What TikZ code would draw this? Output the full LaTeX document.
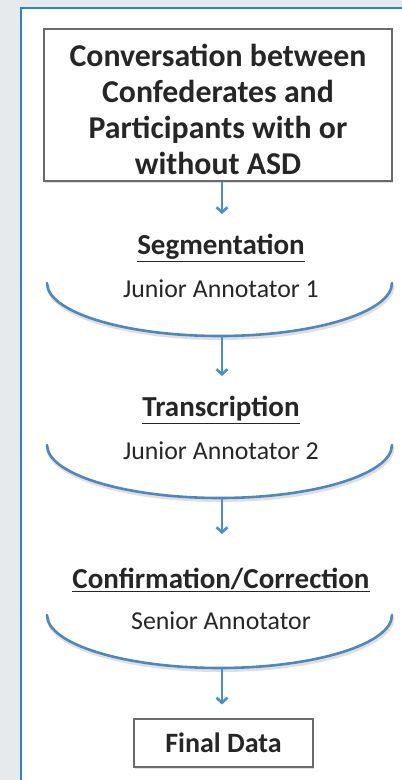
\documentclass[tikz,border=0pt]{standalone}
\usepackage{fontspec}
\setmainfont{Carlito}
\usepackage{tikz}
\usetikzlibrary{arrows.meta,shadows}
\definecolor{ink}{HTML}{262626}
\definecolor{page}{HTML}{E7EAED}
\definecolor{edge}{HTML}{2B82D3}
\definecolor{boxline}{HTML}{6A6A6A}
\definecolor{curve}{HTML}{4F86BE}
\definecolor{arrow}{HTML}{4A8FCB}
\tikzset{
  frame/.style={draw=edge, fill=white, line width=2pt},
  box/.style={draw=boxline, fill=white, line width=1.1pt, inner sep=0pt, text=ink, align=center,
    drop shadow={opacity=0.25, shadow xshift=1.2pt, shadow yshift=-1.5pt}},
  head/.style={text=ink, font=\bfseries\fontsize{29}{34}\selectfont, inner sep=0pt},
  sub/.style={text=ink, font=\fontsize{25.8}{31}\selectfont, inner sep=0pt},
  bowl/.style={draw=curve, line width=2.6pt, line cap=round},
  shade/.style={draw=black!35, line width=3pt, line cap=round, opacity=0.35},
  arr/.style={draw=arrow, line width=2.6pt, -{Straight Barb[length=5pt,width=11pt]}},
}

\begin{document}
\begin{tikzpicture}[x=1pt,y=-1pt]
  \fill[page] (0,0) rectangle (402,780);
  \useasboundingbox (0,0) rectangle (402,780);
  \draw[frame] (21,8) rectangle (412,792);
  % top box
  \node[box, minimum width=348pt, minimum height=152pt,
        font=\bfseries\fontsize{31.8}{36}\selectfont] (conv) at (218,105)
    {\rule{0pt}{31pt}Conversation between\\Confederates and\\Participants with or\\without ASD};
  % three steps: name/title/annotator/title y/arrow tip y
  \foreach \n/\T/\S/\t/\a in {seg/Segmentation/Junior Annotator 1/248/214,
                              trans/Transcription/Junior Annotator 2/410/376,
                              conf/Confirmation\slash Correction/Senior Annotator/580/534}{
    \node[head] (\n) at (221,\t) {\underline{\T}};
    \node[sub] (\n-who) at (221,\t+41) {\S};
    \coordinate (\n-in) at (222,\a);
    \coordinate (\n-out) at (222,\t+88);
    \draw[shade, xshift=1pt, yshift=-2.5pt] (47,\t+35) .. controls (47,{\t+64}) and (124.2,\t+88) .. (219.5,\t+88)
      .. controls (314.8,\t+88) and (392,{\t+64}) .. (392,\t+35);
    \draw[bowl] (47,\t+35) .. controls (47,{\t+64}) and (124.2,\t+88) .. (219.5,\t+88)
      .. controls (314.8,\t+88) and (392,{\t+64}) .. (392,\t+35);
  }
  \node[box, minimum width=179pt, minimum height=48pt,
        font=\bfseries\fontsize{28}{34}\selectfont] (fin) at (223.5,743) {Final Data};
  % arrows
  \draw[arr] (conv.south -| seg-in) -- (seg-in);
  \draw[arr] (seg-out) -- (trans-in);
  \draw[arr] (trans-out) -- (conf-in);
  \draw[arr, shorten >=14pt] (conf-out) -- (fin.north -| conf-out);
\end{tikzpicture}
\end{document}
